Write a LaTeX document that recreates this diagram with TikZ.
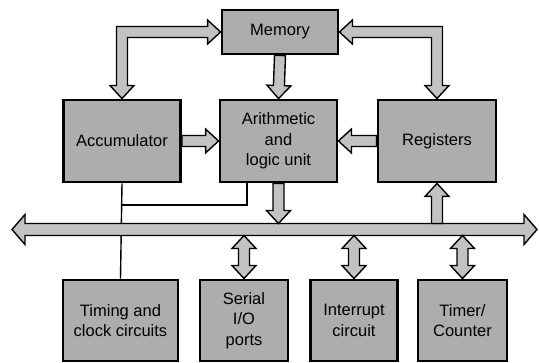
\documentclass[tikz,border=0pt]{standalone}
\usepackage{fontspec}
\setmainfont{Liberation Sans}
\usetikzlibrary{calc,backgrounds}

% fat arrow with a head at the second point: start, end, shaft half width, head half width, head length
\newcommand\fatone[5]{%
  \coordinate (hb) at ($(#2)!#5!(#1)$);
  \filldraw[fat] ($(#1)!#3!90:(#2)$) -- ($(hb)!#3!90:(#2)$) -- ($(hb)!#4!90:(#2)$) -- (#2)
    -- ($(hb)!#4!-90:(#2)$) -- ($(hb)!#3!-90:(#2)$) -- ($(#1)!#3!-90:(#2)$) -- cycle;}
% fat arrow with heads at both ends
\newcommand\fattwo[5]{%
  \coordinate (ha) at ($(#1)!#5!(#2)$);
  \coordinate (hb) at ($(#2)!#5!(#1)$);
  \filldraw[fat] (#1) -- ($(ha)!#4!-90:(#2)$) -- ($(ha)!#3!-90:(#2)$) -- ($(hb)!#3!90:(#1)$)
    -- ($(hb)!#4!90:(#1)$) -- (#2) -- ($(hb)!#4!-90:(#1)$) -- ($(hb)!#3!-90:(#1)$)
    -- ($(ha)!#3!90:(#2)$) -- ($(ha)!#4!90:(#2)$) -- cycle;}

\tikzset{
  unit/.style={draw=black, line width=2.9pt, fill=black!32, font=\fontsize{16.5}{20.5}\selectfont,
    align=center, inner sep=0pt},
  fat/.style={draw=black, line width=1.4pt, fill=black!24, line join=miter},
  wire/.style={draw=black, line width=1.4pt},
}

\begin{document}
\begin{tikzpicture}[x=1pt, y=-1pt]
\useasboundingbox (0,0) rectangle (539,363);

% processor units
\node[unit, minimum width=116pt, minimum height=44pt] (mem) at (280,32) {Memory};
\node[unit, minimum width=117pt, minimum height=82pt] (acc) at (122,141) {Accumulator};
\node[unit, minimum width=117pt, minimum height=82pt] (alu) at (278.5,141) {Arithmetic\\and\\logic unit};
\node[unit, minimum width=118pt, minimum height=82pt] (reg) at (437,141) {Registers};

% peripheral units
\node[unit, minimum width=115pt, minimum height=81pt] (tim) at (120.5,320.5) {Timing and\\clock circuits};
\node[unit, minimum width=88pt, minimum height=81pt] (ser) at (244,320.5) {Serial\\I/O\\ports};
\node[unit, minimum width=87pt, minimum height=81pt] (int) at (354,320.5) {Interrupt\\circuit};
\node[unit, minimum width=89pt, minimum height=81pt] (tmr) at (462.5,320.5) {Timer/\\Counter};

% bus ends and edges
\coordinate (busL) at (12,229.5);
\coordinate (busR) at (537,229.5);
\coordinate (bustop) at (0,223.5);
\coordinate (busbot) at (0,235.5);
\coordinate (tap) at (247,205);

\begin{pgfonlayer}{background}
  % control wiring
  \draw[wire] (acc.south) -- (tim.north);
  \draw[wire] (tap |- alu.south) -- (tap) -- (acc.south |- tap);

  % system bus
  \fattwo{busL}{busR}{6pt}{15pt}{13pt}

  % memory to accumulator and registers
  \coordinate (kl) at (acc.north |- mem.west);
  \coordinate (kr) at (reg.north |- mem.east);
  \filldraw[fat] (mem.west) -- ++(-13,-12) -- ++(0,6.5) -- ($(kl)+(-5.5,-5.5)$)
    -- ($(acc.north)+(-5.5,-13)$) -- ++(-6.5,0) -- (acc.north) -- ++(12,-13) -- ++(-6.5,0)
    -- ($(kl)+(5.5,5.5)$) -- ($(mem.west)+(-13,5.5)$) -- ++(0,6.5) -- cycle;
  \filldraw[fat] (mem.east) -- ++(13,-12) -- ++(0,6.5) -- ($(kr)+(5.5,-5.5)$)
    -- ($(reg.north)+(5.5,-13)$) -- ++(6.5,0) -- (reg.north) -- ++(-12,-13) -- ++(6.5,0)
    -- ($(kr)+(-5.5,5.5)$) -- ($(mem.east)+(13,5.5)$) -- ++(0,6.5) -- cycle;

  % data paths
  \fatone{mem.south}{alu.north}{5.5pt}{12pt}{13pt}
  \fatone{acc.east}{alu.west}{5.5pt}{12pt}{13pt}
  \fatone{reg.west}{alu.east}{5.5pt}{12pt}{13pt}
  \fatone{alu.south}{alu.south |- bustop}{5.5pt}{12pt}{13pt}
  \fatone{reg.south |- bustop}{reg.south}{5.5pt}{12pt}{13pt}
  \fattwo{ser.north |- busbot}{ser.north}{5.5pt}{12pt}{13pt}
  \fattwo{int.north |- busbot}{int.north}{5.5pt}{12pt}{13pt}
  \fattwo{tmr.north |- busbot}{tmr.north}{5.5pt}{12pt}{13pt}
\end{pgfonlayer}
\end{tikzpicture}
\end{document}
